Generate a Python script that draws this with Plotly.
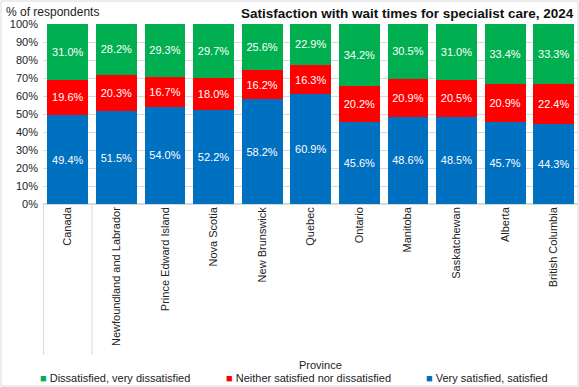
import plotly.graph_objects as go

provinces = ["Canada", "Newfoundland and Labrador", "Prince Edward Island", "Nova Scotia",
             "New Brunswick", "Quebec", "Ontario", "Manitoba", "Saskatchewan", "Alberta",
             "British Columbia"]
very_satisfied = [49.4, 51.5, 54.0, 52.2, 58.2, 60.9, 45.6, 48.6, 48.5, 45.7, 44.3]
neither = [19.6, 20.3, 16.7, 18.0, 16.2, 16.3, 20.2, 20.9, 20.5, 20.9, 22.4]
dissatisfied = [31.0, 28.2, 29.3, 29.7, 25.6, 22.9, 34.2, 30.5, 31.0, 33.4, 33.3]

FONT = "Liberation Sans Narrow, Arial Narrow, Liberation Sans, Arial, sans-serif"

L, R, T, B = 43, 1, 24, 183
W, H = 579, 387
pw, ph = W - L - R, H - T - B

def px(x):
    return (x - L) / pw

def py(y):
    return (H - B - y) / ph

fig = go.Figure()
series = [
    ("Very satisfied, satisfied", very_satisfied, "#0070C0"),
    ("Neither satisfied nor dissatisfied", neither, "#FF0000"),
    ("Dissatisfied, very dissatisfied", dissatisfied, "#00B050"),
]
for name, vals, col in series:
    fig.add_trace(go.Bar(
        x=provinces, y=vals, name=name, marker=dict(color=col, line=dict(width=0)),
        text=[f"{v:.1f}%" for v in vals], textposition="inside", insidetextanchor="middle",
        textangle=0, textfont=dict(color="white", size=11, family=FONT),
        constraintext="none",
    ))

fig.update_layout(
    barmode="stack", bargap=0.16,
    width=W, height=H, margin=dict(l=L, r=R, t=T, b=B, autoexpand=False),
    paper_bgcolor="white", plot_bgcolor="white",
    font=dict(family=FONT, size=11, color="#222"),
    xaxis=dict(tickangle=-90, showgrid=False, showline=False, ticks="",
               tickfont=dict(size=11, color="#222")),
    yaxis=dict(range=[0, 100], dtick=10, ticksuffix="%", showgrid=True,
               gridcolor="#D9D9D9", gridwidth=1, zeroline=True, zerolinecolor="#D9D9D9",
               tickfont=dict(size=11, color="#222"), ticks="", ticklabelstandoff=4),
    showlegend=False,
)

fig.add_annotation(text="% of respondents", xref="paper", yref="paper",
                   x=px(4), y=py(12), xanchor="left", yanchor="middle",
                   showarrow=False, font=dict(size=12, color="#222"))
fig.add_annotation(text="<b>Satisfaction with wait times for specialist care, 2024</b>",
                   xref="paper", yref="paper", x=px(576), y=py(13), xanchor="right",
                   yanchor="middle", showarrow=False, font=dict(size=13.5, color="#111"))
fig.add_annotation(text="Province", xref="paper", yref="paper",
                   x=px(320), y=py(365), xanchor="center", yanchor="middle",
                   showarrow=False, font=dict(size=11, color="#222"))

# legend (manual, to keep it on one line as in the reference)
legend_x = [38, 224, 424]
for (name, vals, col), lx in zip(reversed(series), legend_x):
    fig.add_annotation(text=f"<span style='color:{col}'>■</span> {name}",
                       xref="paper", yref="paper", x=px(lx), y=py(378),
                       xanchor="left", yanchor="middle", showarrow=False,
                       font=dict(size=11, color="#222"))

# category separator lines
fig.add_shape(type="line", xref="x", yref="paper", x0=-0.5, x1=-0.5, y0=0, y1=py(355),
              line=dict(color="#D9D9D9", width=1))
fig.add_shape(type="line", xref="x", yref="paper", x0=0.5, x1=0.5, y0=0, y1=py(355),
              line=dict(color="#D9D9D9", width=1))
# chart border
fig.add_shape(type="rect", xref="paper", yref="paper", x0=px(1), x1=px(578), y0=py(386), y1=py(1),
              line=dict(color="#D9D9D9", width=1))

fig.write_html("out.html", config={"displayModeBar": False},
               post_script="document.body.style.margin='0';document.body.style.overflow='hidden';")
